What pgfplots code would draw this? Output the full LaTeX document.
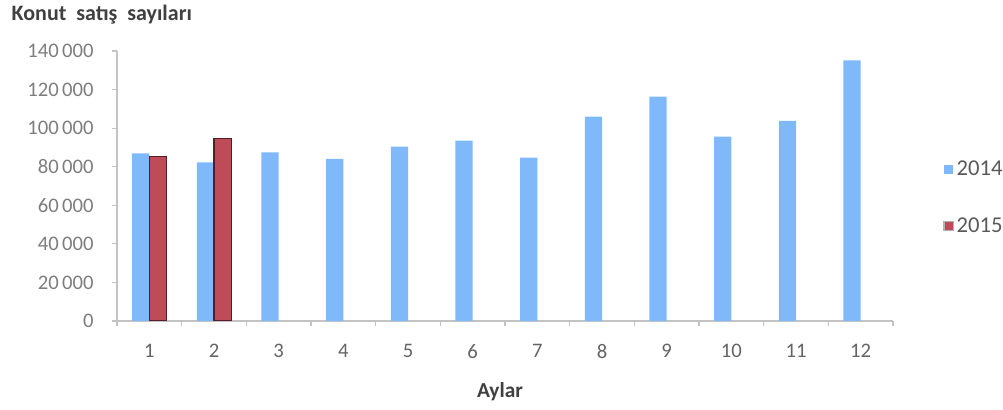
\documentclass[border=0pt]{standalone}
\usepackage{pgfplots}
\pgfplotsset{compat=1.18}
\usepackage{fontspec}
\setmainfont{Carlito}

\definecolor{bar14}{RGB}{128,185,250}
\definecolor{bar15}{RGB}{190,75,88}
\definecolor{edge15}{RGB}{85,30,38}
\definecolor{ytext}{RGB}{125,125,125}
\definecolor{xtext}{RGB}{100,100,100}
\definecolor{axisgray}{RGB}{195,195,195}
\definecolor{titletext}{RGB}{64,64,64}
\definecolor{legtext}{RGB}{90,90,90}

\begin{document}
\begin{tikzpicture}
\path[use as bounding box] (-87.75pt,-66.75pt) rectangle (664.5pt,240.75pt);
\begin{axis}[
  at={(0pt,0pt)}, anchor=south west,
  scale only axis,
  width=582pt, height=202.5pt,
  xmin=0.5, xmax=12.5, ymin=0, ymax=140000,
  ybar=0pt, bar width=12.9pt,
  axis x line*=bottom, axis y line*=left,
  axis line style={draw=axisgray, line width=0.8pt},
  tick align=outside, major tick length=4pt,
  tick style={draw=axisgray, line width=0.8pt},
  xtick={0.5,1.5,2.5,3.5,4.5,5.5,6.5,7.5,8.5,9.5,10.5,11.5,12.5},
  x tick label as interval,
  xticklabels={1,2,3,4,5,6,7,8,9,10,11,12},
  ytick={0,20000,40000,60000,80000,100000,120000,140000},
  scaled y ticks=false,
  /pgf/number format/.cd, fixed, precision=0, 1000 sep={\,}, assume math mode=true,
  /pgfplots/.cd,
  yticklabel style={font=\fontsize{15.5}{18}\selectfont, text=ytext, xshift=-10pt},
  xticklabel style={font=\fontsize{15.5}{18}\selectfont, text=xtext, yshift=-10pt},
  legend style={draw=none, fill=none, at={(1.0644,0.457)}, anchor=west,
    font=\fontsize{17}{20}\selectfont, text=legtext,
    row sep=26pt, inner sep=0pt, /tikz/every even column/.append style={column sep=2pt}},
  legend image code/.code={\fill[#1] (0pt,-3.5pt) rectangle (7pt,3.5pt);},
]
% 2014 monthly sales
\addplot[fill=bar14, draw=none] coordinates {
  (1,86950) (2,82300) (3,87450) (4,84050) (5,90400) (6,93500)
  (7,84750) (8,105950) (9,116300) (10,95600) (11,103800) (12,135200)
};
% 2015 monthly sales (January-February)
\addplot[fill=bar15, draw=edge15, line width=0.8pt,
  legend image code/.code={\filldraw[fill=bar15, draw=gray!60, line width=1pt] (0pt,-3.5pt) rectangle (7pt,3.5pt);}]
  coordinates {
  (1,85200) (2,94700)
};
\legend{2014,2015}
\end{axis}
\node[anchor=west, font=\fontsize{16.5}{19}\selectfont\bfseries, text=titletext]
  at (-82.5pt,229.5pt) {Konut\hspace{0.45em}satış\hspace{0.45em}sayıları};
\node[font=\fontsize{16}{19}\selectfont\bfseries, text=titletext]
  at (287.25pt,-53.25pt) {Aylar};
\end{tikzpicture}
\end{document}
